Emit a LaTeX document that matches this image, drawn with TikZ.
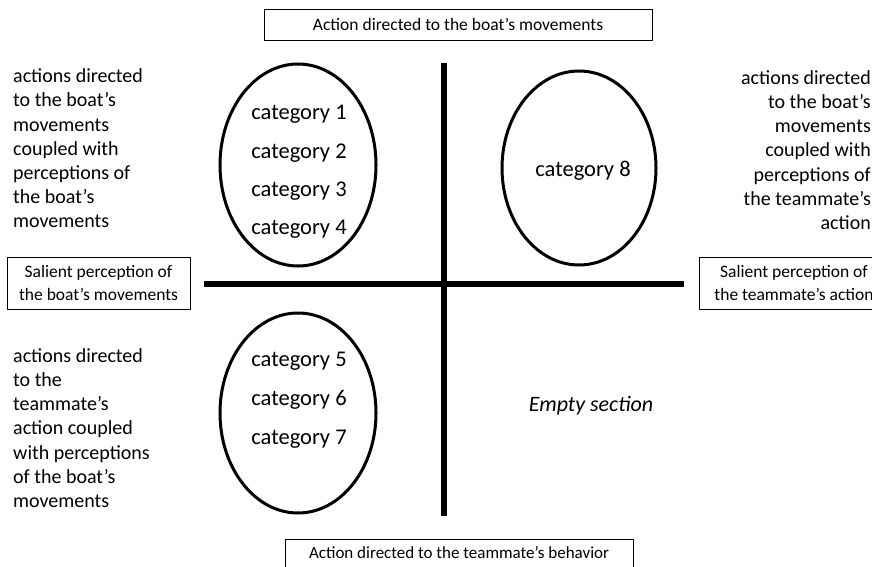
\documentclass[tikz,border=0pt]{standalone}
\usepackage{fontspec}
\setmainfont{Carlito}
\usetikzlibrary{positioning,shapes.geometric}

\begin{document}
\begin{tikzpicture}[x=1pt,y=-1pt,
    axis/.style={line width=6.5pt},
    ring/.style={draw, ellipse, line width=3pt, inner sep=0pt,
                 minimum width=156pt, minimum height=202pt},
    cat/.style={font=\fontsize{22.5}{27}\selectfont, anchor=base, inner sep=0pt},
    side/.style={font=\fontsize{20}{24.2}\selectfont, inner sep=0pt},
    labelbox/.style={draw, line width=0.8pt, inner sep=0pt, align=center,
                     font=\fontsize{17.5}{23}\selectfont}]
    \useasboundingbox (0,0) rectangle (872,567);
    % axes
    \coordinate (vtop) at (444,63);
    \coordinate (vbot) at (444,516);
    \coordinate (hleft) at (204,284);
    \coordinate (hright) at (684,284);
    \draw[axis] (vtop) -- (vbot);
    \draw[axis] (hleft) -- (hright);
    % axis labels
    \node[labelbox, minimum width=388pt, minimum height=31pt] (top) at (458,24.5)
        {Action directed to the boat’s movements};
    \node[labelbox, minimum width=348pt, text height=19pt, text depth=21pt,
          font=\fontsize{17}{23}\selectfont, anchor=north] (bottom) at (459,539)
        {Action directed to the teammate’s behavior};
    \node[labelbox, minimum width=183pt, minimum height=52pt] (left) at (98.5,283)
        {Salient perception of\\the boat’s movements};
    \node[labelbox, minimum width=190pt, minimum height=52pt] (right) at (794,283)
        {Salient perception of\\the teammate’s action};
    % ellipses
    \node[ring] (tl) at (298,165) {};
    \node[ring, minimum height=194pt, minimum width=154pt] (tr) at (579,168) {};
    \node[ring, minimum height=200pt] (bl) at (298,413) {};
    % categories
    \node[cat] (c1) at (299,120) {category 1};
    \node[cat] (c2) at (299,158) {category 2};
    \node[cat] (c3) at (299,196) {category 3};
    \node[cat] (c4) at (299,234) {category 4};
    \node[cat] (c5) at (299,366) {category 5};
    \node[cat] (c6) at (299,405) {category 6};
    \node[cat] (c7) at (299,444) {category 7};
    \node[cat] (c8) at (583,176) {category 8};
    \node[cat, font=\fontsize{22}{26}\selectfont\itshape] (empty) at (591,411) {Empty section};
    % quadrant descriptions
    \node[side, align=left, anchor=west] (dtl) at (13,148.5)
        {actions directed\\to the boat’s\\movements\\coupled with\\perceptions of\\the boat’s\\movements};
    \node[side, align=left, anchor=west] (dbl) at (13,428)
        {actions directed\\to the\\teammate’s\\action coupled\\with perceptions\\of the boat’s\\movements};
    \node[side, align=right, anchor=east] (dtr) at (871,150)
        {actions directed\\to the boat’s\\movements\\coupled with\\perceptions of\\the teammate’s\\action};
\end{tikzpicture}
\end{document}
